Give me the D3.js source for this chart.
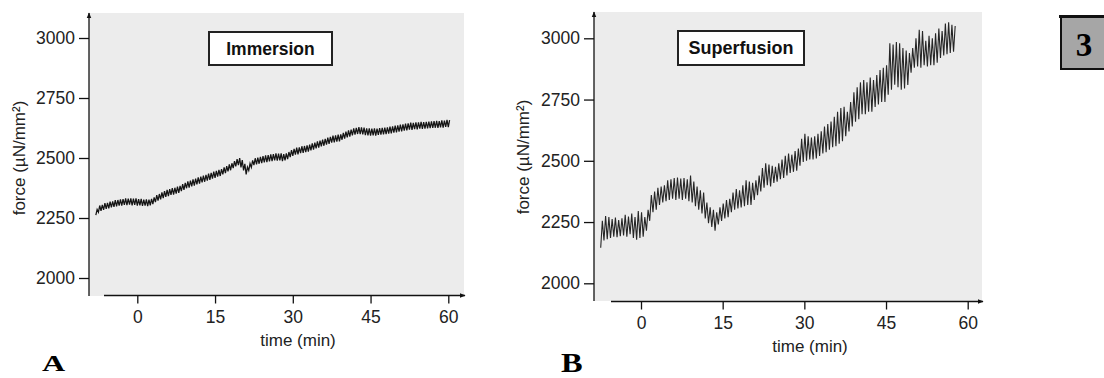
<!DOCTYPE html>
<html>
<head>
<meta charset="utf-8">
<script src="https://cdn.jsdelivr.net/npm/d3@7"></script>
<style>
  body { margin: 0; background: #fff; }
  svg { display: block; }
</style>
</head>
<body>
<script>
// ---- data ----
const TIME_TICKS = [0, 15, 30, 45, 60];
const FORCE_TICKS = [2000, 2250, 2500, 2750, 3000];

// panel A : immersion, one small oscillation every 0.5 min starting at -8 min
const A_T0 = -8;
const A_PERIOD = 0.5;
const A_LOW = [
  2262, 2274, 2280, 2284, 2288, 2290, 2294, 2296, 2298, 2302, 2302, 2305, 2304, 2306, 2303, 2305,
  2302, 2303, 2300, 2302, 2299, 2303, 2308, 2316, 2322, 2328, 2333, 2338, 2341, 2346, 2347, 2352,
  2355, 2362, 2367, 2374, 2377, 2382, 2385, 2390, 2393, 2398, 2401, 2406, 2409, 2414, 2417, 2422,
  2425, 2432, 2437, 2444, 2449, 2458, 2465, 2470, 2461, 2448, 2432, 2448, 2461, 2470, 2473, 2476,
  2479, 2482, 2483, 2486, 2487, 2490, 2489, 2490, 2487, 2490, 2495, 2504, 2509, 2514, 2515, 2520,
  2521, 2524, 2527, 2532, 2535, 2540, 2543, 2548, 2551, 2556, 2559, 2564, 2565, 2568, 2569, 2576,
  2581, 2586, 2589, 2594, 2597, 2600, 2599, 2598, 2595, 2594, 2593, 2594, 2593, 2596, 2597, 2598,
  2599, 2602, 2603, 2606, 2607, 2610, 2611, 2614, 2615, 2618, 2617, 2620, 2619, 2622, 2621, 2622,
  2623, 2624, 2625, 2626, 2625, 2628, 2627, 2630, 2629
];
const A_HIGH = [
  2286, 2302, 2305, 2312, 2313, 2318, 2319, 2324, 2325, 2328, 2329, 2332, 2331, 2332, 2331, 2332,
  2329, 2330, 2327, 2328, 2327, 2330, 2336, 2345, 2350, 2357, 2362, 2367, 2370, 2375, 2376, 2381,
  2384, 2391, 2396, 2403, 2406, 2411, 2414, 2419, 2422, 2427, 2430, 2435, 2438, 2443, 2446, 2451,
  2454, 2461, 2466, 2473, 2478, 2487, 2495, 2500, 2491, 2476, 2462, 2477, 2490, 2499, 2502, 2505,
  2508, 2511, 2512, 2515, 2516, 2519, 2518, 2519, 2516, 2519, 2525, 2533, 2538, 2543, 2544, 2549,
  2550, 2553, 2556, 2561, 2564, 2569, 2572, 2577, 2580, 2585, 2588, 2593, 2594, 2597, 2598, 2605,
  2610, 2615, 2618, 2623, 2626, 2629, 2628, 2627, 2624, 2623, 2622, 2623, 2622, 2625, 2626, 2627,
  2628, 2631, 2632, 2635, 2636, 2639, 2640, 2643, 2644, 2647, 2646, 2649, 2648, 2651, 2650, 2651,
  2652, 2653, 2654, 2655, 2654, 2657, 2656, 2659, 2658
];

// panel B : superfusion, one oscillation cycle every 0.6 min starting at -7.4 min
const B_T0 = -7.4;
const B_PERIOD = 0.6;
const B_LOW = [
  2145, 2175, 2180, 2185, 2190, 2188, 2192, 2195, 2190, 2200, 2185, 2178, 2185, 2190, 2215, 2255,
  2290, 2300, 2320, 2330, 2335, 2340, 2345, 2340, 2345, 2340, 2345, 2335, 2330, 2315, 2300, 2285,
  2265, 2245, 2230, 2215, 2240, 2255, 2265, 2270, 2290, 2300, 2305, 2310, 2315, 2320, 2320, 2340,
  2360, 2375, 2390, 2400, 2395, 2410, 2415, 2425, 2430, 2440, 2450, 2455, 2460, 2480, 2495, 2500,
  2505, 2505, 2510, 2520, 2530, 2535, 2545, 2555, 2560, 2570, 2580, 2600, 2620, 2640, 2660, 2670,
  2690, 2690, 2700, 2700, 2720, 2730, 2740, 2740, 2770, 2790, 2810, 2800, 2790, 2795, 2810, 2860,
  2880, 2885, 2880, 2890, 2885, 2890, 2890, 2900, 2920, 2930, 2935, 2940, 2945
];
const B_HIGH = [
  2255, 2275, 2270, 2262, 2268, 2258, 2265, 2280, 2272, 2285, 2270, 2295, 2290, 2270, 2300, 2360,
  2375, 2390, 2395, 2400, 2420, 2425, 2430, 2432, 2428, 2430, 2425, 2440, 2415, 2395, 2380, 2370,
  2330, 2310, 2300, 2290, 2310, 2325, 2340, 2345, 2370, 2385, 2380, 2400, 2420, 2415, 2410, 2420,
  2440, 2470, 2490, 2485, 2480, 2475, 2490, 2505, 2520, 2530, 2525, 2540, 2550, 2590, 2610, 2600,
  2595, 2600, 2610, 2620, 2640, 2650, 2660, 2680, 2700, 2715, 2720, 2700, 2740, 2780, 2800, 2820,
  2830, 2820, 2840, 2830, 2850, 2870, 2880, 2890, 2980, 2975, 2985, 2980, 2960, 2950, 2940, 2960,
  3000, 3035, 3030, 2990, 3010, 3000, 3020, 3040, 3030, 3060, 3065, 3055, 3050
];

// interleave troughs and peaks into one trace
function trace(t0, period, lows, highs) {
  const pts = [];
  lows.forEach((lo, i) => {
    pts.push({t: t0 + i * period, v: lo});
    pts.push({t: t0 + i * period + period / 2, v: highs[i]});
  });
  return pts;
}
const seriesA = trace(A_T0, A_PERIOD, A_LOW, A_HIGH);
const seriesB = trace(B_T0, B_PERIOD, B_LOW, B_HIGH);

const SANS = "'Liberation Sans', Arial, sans-serif";
const SERIF = "'Liberation Serif', 'Times New Roman', serif";

const svg = d3.select("body").append("svg")
  .attr("width", 1104)
  .attr("height", 378)
  .style("font-family", SANS);

// arrow heads for the axes
svg.append("defs").append("marker")
  .attr("id", "arrow")
  .attr("viewBox", "0 0 10 10")
  .attr("refX", 9).attr("refY", 5)
  .attr("markerWidth", 6).attr("markerHeight", 6)
  .attr("markerUnits", "userSpaceOnUse")
  .attr("orient", "auto")
  .append("path")
  .attr("d", "M0,1 L10,5 L0,9 Z")
  .attr("fill", "#111");

function drawPanel(p) {
  const g = svg.append("g");
  const x = d3.scaleLinear().domain([0, 60]).range(p.xRange);
  const y = d3.scaleLinear().domain([2000, 3000]).range(p.yRange);

  // grey plot background
  g.append("rect")
    .attr("x", p.bg[0]).attr("y", p.bg[1])
    .attr("width", p.bg[2] - p.bg[0]).attr("height", p.bg[3] - p.bg[1])
    .attr("fill", "#ececec");

  // trace
  g.append("path")
    .datum(p.data)
    .attr("fill", "none")
    .attr("stroke", p.color)
    .attr("stroke-width", p.width)
    .attr("d", d3.line().x(d => x(d.t)).y(d => y(d.v)));

  // y axis
  const ya = g.append("g")
    .attr("transform", `translate(${p.bg[0]},0)`)
    .call(d3.axisLeft(y).tickValues(FORCE_TICKS).tickFormat(d3.format("d"))
      .tickSize(10).tickPadding(4).tickSizeOuter(0));
  ya.select(".domain").remove();
  ya.selectAll("line").attr("stroke", "#111").attr("stroke-width", 1.3);
  ya.selectAll("text").style("font-size", "17.5px").style("font-family", SANS).attr("fill", "#222");
  g.append("line")
    .attr("x1", p.bg[0]).attr("x2", p.bg[0])
    .attr("y1", p.bg[3]).attr("y2", p.bg[1])
    .attr("stroke", "#111").attr("stroke-width", 1.3)
    .attr("marker-end", "url(#arrow)");

  // x axis
  const xa = g.append("g")
    .attr("transform", `translate(0,${p.xAxisY})`)
    .call(d3.axisBottom(x).tickValues(TIME_TICKS).tickSize(8).tickPadding(7).tickSizeOuter(0));
  xa.select(".domain").remove();
  xa.selectAll("line").attr("stroke", "#111").attr("stroke-width", 1.3);
  xa.selectAll("text").style("font-size", "17.5px").style("font-family", SANS).attr("fill", "#222");
  g.append("line")
    .attr("x1", p.xAxisStart).attr("x2", p.bg[2] + 1)
    .attr("y1", p.xAxisY).attr("y2", p.xAxisY)
    .attr("stroke", "#111").attr("stroke-width", 1.3)
    .attr("marker-end", "url(#arrow)");

  // axis titles
  g.append("text")
    .attr("x", p.xTitle[0]).attr("y", p.xTitle[1])
    .attr("text-anchor", "middle")
    .style("font-size", "17px").attr("fill", "#222")
    .text("time (min)");
  g.append("text")
    .attr("transform", `translate(${p.yTitle[0]},${p.yTitle[1]}) rotate(-90)`)
    .attr("text-anchor", "middle")
    .style("font-size", "17px").attr("fill", "#222")
    .text("force (\u00b5N/mm\u00b2)");

  // condition label box
  g.append("rect")
    .attr("x", p.box[0]).attr("y", p.box[1])
    .attr("width", p.box[2]).attr("height", p.box[3])
    .attr("fill", "#fff").attr("stroke", "#222").attr("stroke-width", 2);
  g.append("text")
    .attr("x", p.box[0] + p.box[2] / 2).attr("y", p.box[1] + 23)
    .attr("text-anchor", "middle")
    .style("font-size", p.boxFont + "px").style("font-weight", "bold").attr("fill", "#111")
    .text(p.title);

  // panel letter
  g.append("text")
    .attr("transform", `translate(${p.letter[0]},${p.letter[1]}) scale(${p.letter[3]},1)`)
    .style("font-family", SERIF)
    .style("font-weight", "bold")
    .style("font-size", p.letter[2] + "px")
    .attr("fill", "#000")
    .text(p.name);
}

drawPanel({
  name: "A", title: "Immersion", data: seriesA, color: "#151515", width: 1.25,
  xRange: [137.3, 448.3], yRange: [278, 38],
  bg: [89, 13, 464, 296], xAxisY: 295.5, xAxisStart: 104,
  xTitle: [298, 346], yTitle: [25, 158],
  box: [209, 32, 123, 33], boxFont: 17.5,
  letter: [42, 371, 23, 1.4]
});

drawPanel({
  name: "B", title: "Superfusion", data: seriesB, color: "#262626", width: 1.1,
  xRange: [641, 967.7], yRange: [283.3, 38.3],
  bg: [594, 12, 982, 301], xAxisY: 301.5, xAxisStart: 611,
  xTitle: [810, 352], yTitle: [529, 157],
  box: [678, 31, 126, 34], boxFont: 18,
  letter: [561, 372, 27, 1.2]
});

// figure number tab
svg.append("rect")
  .attr("x", 1061).attr("y", 17)
  .attr("width", 50).attr("height", 52)
  .attr("fill", "#a6a6a6").attr("stroke", "#111").attr("stroke-width", 2);
svg.append("line")
  .attr("x1", 1059).attr("x2", 1104).attr("y1", 16.5).attr("y2", 16.5)
  .attr("stroke", "#111").attr("stroke-width", 3);
svg.append("text")
  .attr("x", 1084).attr("y", 56)
  .attr("text-anchor", "middle")
  .style("font-family", SERIF)
  .style("font-weight", "bold")
  .style("font-size", "33px")
  .attr("fill", "#000")
  .text("3");
</script>
</body>
</html>
